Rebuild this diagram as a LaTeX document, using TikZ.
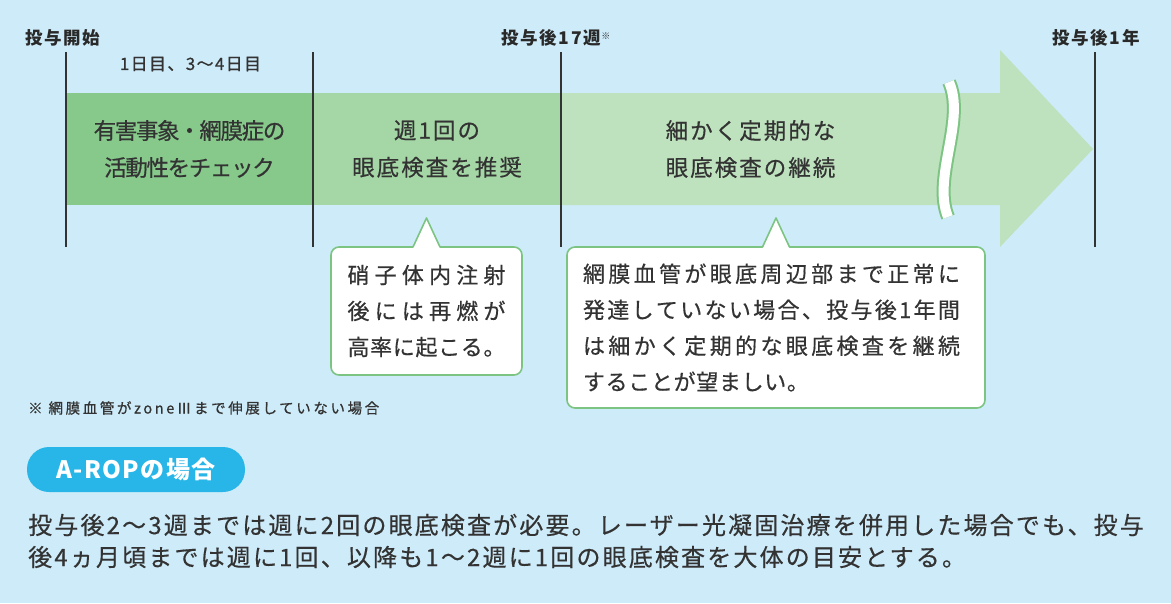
\documentclass[tikz,border=0pt]{standalone}
\usepackage{fontspec}
\setmainfont{Noto Sans CJK JP}
\usetikzlibrary{calc,positioning}

\definecolor{bgblue}{HTML}{CEEBF9}
\definecolor{segdark}{HTML}{86C98B}
\definecolor{segmid}{HTML}{A5D6A5}
\definecolor{seglight}{HTML}{BEE1BE}
\definecolor{notegreen}{HTML}{7CC482}
\definecolor{pillblue}{HTML}{28B5E7}
\definecolor{ink}{HTML}{333333}

\newcommand\fitline[2]{\makebox[#1][s]{\spaceskip=0pt plus 1fil\relax #2}}

\begin{document}
\begin{tikzpicture}[x=1pt,y=1pt,
  toplabel/.style={inner sep=0pt,anchor=west,text=ink!80!black,
    font={\fontsize{17.5}{18}\selectfont\bfseries\addfontfeature{LetterSpace=10}}},
  seg/.style={inner sep=0pt,outer sep=0pt,minimum height=112pt,align=center,text=ink,
    font={\fontsize{22.5}{37}\selectfont\addfontfeature{LetterSpace=9,FakeBold=0.5}}},
  tickline/.style={draw=ink,line width=1.4pt},
  note/.style={draw=notegreen,fill=white,line width=1.6pt,rounded corners=8pt,
    outer sep=0pt,text=ink,font={\fontsize{22}{36}\selectfont\addfontfeature{LetterSpace=3,FakeBold=0.5}}},
  pill/.style={fill=pillblue,rounded corners=22pt,minimum width=218pt,minimum height=45pt,
    text=white,font={\fontsize{24}{26}\selectfont\bfseries\addfontfeature{LetterSpace=6}}},
  small note/.style={inner sep=0pt,anchor=west,text=ink,
    font={\fontsize{14.5}{16}\selectfont\addfontfeature{LetterSpace=18,FakeBold=0.8}}},
  bodytext/.style={inner sep=0pt,anchor=west,align=left,text=ink,
    font={\fontsize{24}{32}\selectfont\addfontfeature{LetterSpace=9,FakeBold=0.5}}}]

  \useasboundingbox[fill=bgblue] (0,0) rectangle (1171,-603);

  % arrow
  \fill[seglight] (561,-93) -- (1000,-93) -- (1000,-50) -- (1093,-149)
    -- (1000,-247) -- (1000,-205) -- (561,-205) -- cycle;
  \node[seg,fill=segdark,minimum width=247pt,font={\fontsize{22.5}{37}\selectfont\addfontfeature{LetterSpace=-6,FakeBold=0.5}}]
    (sg1) at (189.5,-149) {有害事象・網膜症の\\活動性をチェック};
  \node[seg,fill=segmid,minimum width=248pt] (sg2) [right=0pt of sg1] {週1回の\\眼底検査を推奨};
  \node[seg,minimum width=379pt] (sg3) [right=0pt of sg2] {細かく定期的な\\眼底検査の継続};

  % break mark
  \draw[notegreen,line width=14pt] (949,-82) .. controls (966,-120) and (932,-178) .. (948,-217);
  \draw[white,line width=10pt] (949,-82) .. controls (966,-120) and (932,-178) .. (948,-217);

  \foreach \x in {66,313,561,1095}
    \draw[tickline] (\x,-52) -- (\x,-247);

  \node[toplabel] (lstart) at (25,-38) {投与開始};
  \node[toplabel] (lweek) at (501,-38) {投与後17週\raisebox{5pt}{\fontsize{9}{9}\selectfont ※}};
  \node[toplabel] (lyear) at (1052,-38) {投与後1年};
  \node[inner sep=0pt,text=ink,font={\fontsize{17}{18}\selectfont\addfontfeature{LetterSpace=8,FakeBold=0.5}}]
    (days) at (190.5,-64) {1日目、3～4日目};

  \node[note,minimum width=191pt,minimum height=128pt,align=center] (cbox1) at (426.5,-311)
    {\fitline{158pt}{硝 子 体 内 注 射}\\\fitline{158pt}{後 に は 再 燃 が}\\\fitline{158pt}{高 率 に 起 こ る 。}};
  \node[note,minimum height=161pt,inner xsep=16pt,text width=386pt,align=left] (cbox2) at (776,-327.5)
    {\fitline{377pt}{網 膜 血 管 が 眼 底 周 辺 部 ま で 正 常 に}\\
     \fitline{377pt}{発 達 し て い な い 場 合 、 投 与 後 1 年 間}\\
     \fitline{377pt}{は 細 か く 定 期 的 な 眼 底 検 査 を 継 続}\\
     することが望ましい。};

  \foreach \b in {cbox1,cbox2} {
    \fill[white] ($(\b.north)+(-13.5,-1.5)$) -- ($(\b.north)+(0,29)$) -- ($(\b.north)+(13.5,-1.5)$) -- cycle;
    \draw[notegreen,line width=1.6pt,line join=round] ($(\b.north)+(-13.5,0)$) -- ($(\b.north)+(0,29)$) -- ($(\b.north)+(13.5,0)$);
  }

  \node[small note] (fnote) at (28,-408) {※ 網膜血管がzoneⅢまで伸展していない場合};
  \node[pill] (arop) at (136,-469.5) {A-ROPの場合};
  \node[bodytext] (body) at (28,-541)
    {投与後2～3週までは週に2回の眼底検査が必要。レーザー光凝固治療を併用した場合でも、投与\\
     後4ヵ月頃までは週に1回、以降も1～2週に1回の眼底検査を大体の目安とする。};
\end{tikzpicture}
\end{document}
